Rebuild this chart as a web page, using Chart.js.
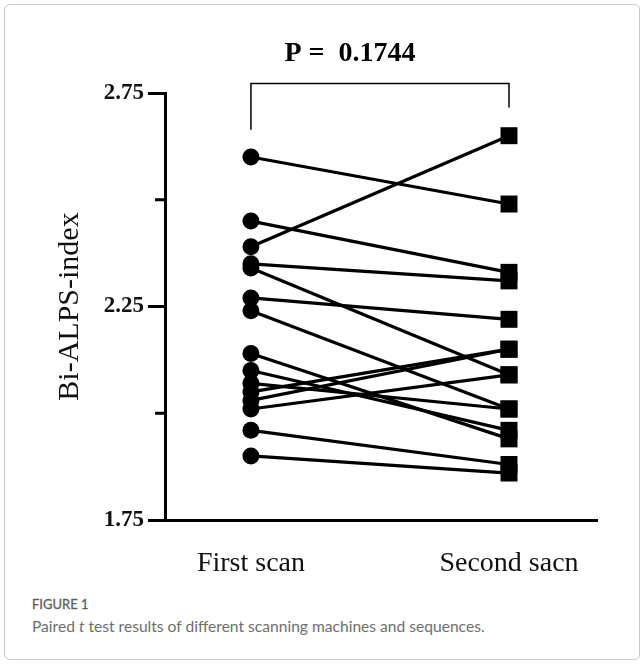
<!DOCTYPE html>
<html><head><meta charset="utf-8">
<script src="https://cdn.jsdelivr.net/npm/chart.js@4"></script>
<style>
html,body{margin:0;padding:0;background:#fff;}
#frame{position:absolute;left:4px;top:4px;width:634px;height:654px;border:1px solid #c8c8c8;border-radius:6px;}
#wrap{position:absolute;left:0;top:0;width:643px;height:585px;}
#cap{position:absolute;left:32px;top:596px;font-family:Lato,"Open Sans",sans-serif;color:#666;}
#cap .h{font-size:13px;font-weight:400;color:#5e5e5e;letter-spacing:0;-webkit-text-stroke:0.3px #5e5e5e;}
#cap .t{font-size:15.6px;font-weight:400;margin-top:5px;color:#6e6e6e;}
</style></head><body>
<div id="frame"></div>
<div id="wrap"><canvas id="c" width="643" height="585"></canvas></div>
<div id="cap"><div class="h">FIGURE 1</div><div class="t">Paired <i>t</i> test results of different scanning machines and sequences.</div></div>
<script>
const categories = ['First scan', 'Second sacn'];
const firstScan  = [2.60, 2.45, 2.39, 2.35, 2.34, 2.27, 2.24, 2.14, 2.10, 2.07, 2.05, 2.03, 2.01, 1.96, 1.90];
const secondScan = [2.49, 2.33, 2.65, 2.31, 2.09, 2.22, 2.01, 1.94, 1.96, 2.01, 2.15, 2.15, 2.09, 1.88, 1.86];
const yTicks = [1.75, 2.0, 2.25, 2.5, 2.75];
const yTickLabels = ['1.75', '', '2.25', '', '2.75'];
const minorTicks = [2.0, 2.5];
const pText = 'P =  0.1744';

const datasets = firstScan.map((v, i) => ({
  data: [{x: 1, y: v}, {x: 2, y: secondScan[i]}],
  borderColor: '#000',
  backgroundColor: '#000',
  borderWidth: 3.2,
  pointStyle: ['circle', 'rect'],
  pointRadius: [8.5, 12],
  pointHoverRadius: [8.5, 12],
  pointBorderWidth: 0,
  showLine: true,
  clip: false
}));

const extras = {
  id: 'extras',
  afterDraw(chart) {
    const {ctx, scales: {x, y}, chartArea} = chart;
    ctx.save();
    ctx.strokeStyle = '#000';
    ctx.lineWidth = 3;
    minorTicks.forEach(v => {
      const py = y.getPixelForValue(v);
      ctx.beginPath();
      ctx.moveTo(chartArea.left - 10, py);
      ctx.lineTo(chartArea.left, py);
      ctx.stroke();
    });
    const x1 = x.getPixelForValue(1), x2 = x.getPixelForValue(2);
    const top = y.getPixelForValue(2.772);
    const l1 = y.getPixelForValue(2.664), l2 = y.getPixelForValue(2.716);
    ctx.lineWidth = 1.5;
    ctx.beginPath();
    ctx.moveTo(x1, l1); ctx.lineTo(x1, top); ctx.lineTo(x2, top); ctx.lineTo(x2, l2);
    ctx.stroke();
    ctx.fillStyle = '#000';
    ctx.font = 'bold 28px "Liberation Serif", "Times New Roman", serif';
    ctx.textAlign = 'center';
    ctx.textBaseline = 'middle';
    ctx.fillText(pText, (x1 + x2) / 2 - 30, top - 30);
    ctx.restore();
  }
};

new Chart(document.getElementById('c'), {
  type: 'scatter',
  data: { datasets },
  plugins: [extras],
  options: {
    responsive: false,
    animation: false,
    events: [],
    layout: { padding: { top: 93, right: 46, left: 0, bottom: 0 } },
    plugins: { legend: { display: false }, tooltip: { enabled: false } },
    scales: {
      x: {
        type: 'linear',
        min: 0.667, max: 2.341,
        afterBuildTicks: s => { s.ticks = [1, 2].map(v => ({value: v})); },
        afterFit: s => { s.height = 65; },
        ticks: {
          padding: 27,
          color: '#111',
          font: { family: '"Liberation Serif", "Times New Roman", serif', size: 28 },
          callback: (v) => categories[Math.round(v) - 1]
        },
        grid: { drawOnChartArea: false, drawTicks: false },
        border: { color: '#000', width: 3 }
      },
      y: {
        min: 1.75, max: 2.75,
        afterBuildTicks: s => { s.ticks = yTicks.map(v => ({value: v})); },
        afterFit: s => { s.width = 165; },
        ticks: {
          padding: 4,
          color: '#111',
          font: { family: '"Liberation Serif", "Times New Roman", serif', size: 23, weight: 'bold' },
          callback: (v, i) => yTickLabels[i]
        },
        grid: {
          drawOnChartArea: false,
          drawTicks: true,
          tickLength: 17,
          tickWidth: 3,
          tickColor: c => (c.tick && minorTicks.includes(c.tick.value)) ? 'rgba(0,0,0,0)' : '#000'
        },
        border: { color: '#000', width: 3 },
        title: {
          display: true,
          text: 'Bi-ALPS-index',
          color: '#111',
          font: { family: '"Liberation Serif", "Times New Roman", serif', size: 30 },
          padding: { top: 52, bottom: 0 }
        }
      }
    }
  }
});
</script>
</body></html>
